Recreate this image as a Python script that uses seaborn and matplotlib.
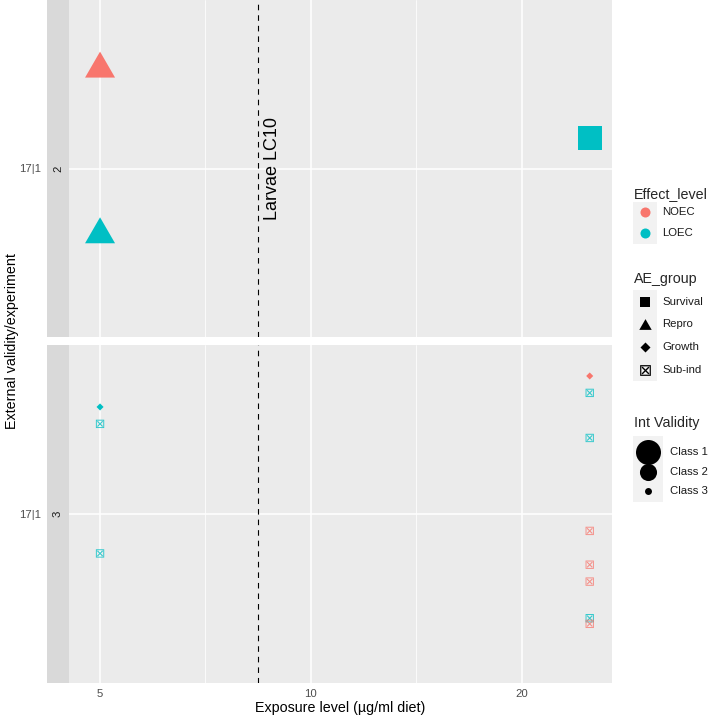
import matplotlib
matplotlib.use("Agg")
import matplotlib.pyplot as plt
import matplotlib.transforms as mtransforms
from matplotlib.path import Path
from matplotlib.patches import Rectangle
from matplotlib.ticker import FixedLocator, FixedFormatter, NullFormatter
import numpy as np
import pandas as pd
import seaborn as sns

# ---------------- data ----------------
experiment   = ["2", "2", "2",
                "3", "3", "3", "3", "3", "3", "3", "3", "3", "3", "3"]
exposure     = [5, 5, 25,
                5, 5, 5, 25, 25, 25, 25, 25, 25, 25, 25]
effect_level = ["NOEC", "LOEC", "LOEC",
                "LOEC", "LOEC", "LOEC", "NOEC", "LOEC", "LOEC", "NOEC",
                "NOEC", "NOEC", "LOEC", "NOEC"]
ae_group     = ["Repro", "Repro", "Survival",
                "Growth", "Sub-ind", "Sub-ind", "Growth", "Sub-ind", "Sub-ind",
                "Sub-ind", "Sub-ind", "Sub-ind", "Sub-ind", "Sub-ind"]
int_validity = ["Class 1", "Class 1", "Class 1",
                "Class 3", "Class 3", "Class 3", "Class 3", "Class 3", "Class 3",
                "Class 3", "Class 3", "Class 3", "Class 3", "Class 3"]
y_jitter     = [0.37, -0.22, 0.11,
                0.38, 0.32, -0.14, 0.49, 0.43, 0.27, -0.06, -0.18, -0.24, -0.37, -0.39]

facets = ["2", "3"]
y_category = "17|1"
x_ticks = [5, 10, 20]
x_tick_labels = ["5", "10", "20"]
larvae_lc10 = 8.39
effect_levels = ["NOEC", "LOEC"]
ae_groups = ["Survival", "Repro", "Growth", "Sub-ind"]
validity_classes = ["Class 1", "Class 2", "Class 3"]

df = pd.DataFrame({
    "Experiment": experiment, "Exposure": exposure, "Effect_level": effect_level,
    "AE_group": ae_group, "Int_Validity": int_validity, "y": y_jitter,
})

# ---------------- style ----------------
sns.set_theme(style="darkgrid")
plt.rcParams["font.family"] = ["Liberation Sans", "DejaVu Sans"]
plt.rcParams["mathtext.fontset"] = "dejavusans"

pal = {"NOEC": "#F8766D", "LOEC": "#00BFC4"}
tri = Path([(-1, -0.866), (1, -0.866), (0, 0.866), (-1, -0.866)],
           [Path.MOVETO, Path.LINETO, Path.LINETO, Path.CLOSEPOLY])
markers = {"Survival": "s", "Repro": tri, "Growth": "D", "Sub-ind": r"$\boxtimes$"}
class_diam = {"Class 1": 18.0, "Class 2": 12.3, "Class 3": 5.0}
shape_scale = {"Survival": 0.92, "Repro": 1.2, "Growth": 0.72, "Sub-ind": 1.2}
shape_alpha = {"Survival": 1.0, "Repro": 1.0, "Growth": 1.0, "Sub-ind": 0.8}

W, H = 709, 718
fig = plt.figure(figsize=(W / 100, H / 100), dpi=100)
fig.patch.set_facecolor("white")


def px_axes(x0, y0, x1, y1, **kw):
    return fig.add_axes([x0 / W, 1 - y1 / H, (x1 - x0) / W, (y1 - y0) / H], **kw)


ax_top = px_axes(47, 0, 612, 337)
ax_bot = px_axes(47, 345, 612, 683)
strip_frac = (69 - 47) / (612 - 47)

for ax, fac in zip([ax_top, ax_bot], facets):
    ax.set_facecolor("#EBEBEB")
    d = df[df["Experiment"] == fac]
    for g in ae_groups:
        sub = d[d["AE_group"] == g]
        if sub.empty:
            continue
        sizes = {c: (class_diam[c] * shape_scale[g]) ** 2 for c in validity_classes}
        sns.scatterplot(data=sub, x="Exposure", y="y", hue="Effect_level",
                        hue_order=effect_levels, palette=pal,
                        size="Int_Validity", size_order=validity_classes, sizes=sizes,
                        marker=markers[g], linewidth=0, alpha=shape_alpha[g],
                        legend=False, ax=ax, zorder=3)
    ax.axvline(larvae_lc10, color="black", lw=0.8, ls=(0, (5, 4.5)), zorder=2.5)
    ax.set_xscale("log")
    ax.set_xlim(4.20, 26.9)
    ax.set_ylim(-0.6, 0.6)
    ax.xaxis.set_major_locator(FixedLocator(x_ticks))
    ax.xaxis.set_major_formatter(FixedFormatter(x_tick_labels))
    ax.xaxis.set_minor_locator(FixedLocator([np.sqrt(x_ticks[0] * x_ticks[1]),
                                             np.sqrt(x_ticks[1] * x_ticks[2])]))
    ax.xaxis.set_minor_formatter(NullFormatter())
    ax.set_yticks([0])
    ax.set_yticklabels([y_category])
    ax.set_xlabel("")
    ax.set_ylabel("")
    for s in ax.spines.values():
        s.set_visible(False)
    ax.set_axisbelow(True)
    ax.grid(True, which="major", color="white", lw=1.1)
    ax.grid(True, which="minor", axis="x", color="white", lw=0.55)
    ax.tick_params(axis="both", which="major", length=2.6, width=0.8, color="#333333",
                   labelsize=8.2, labelcolor="#4D4D4D", pad=2)
    ax.tick_params(axis="x", which="minor", length=0)
    # strip on the left
    ax.add_patch(Rectangle((0, 0), strip_frac, 1, transform=ax.transAxes,
                           facecolor="#D9D9D9", edgecolor="none", zorder=1.2))
    trans = mtransforms.blended_transform_factory(ax.transAxes, ax.transData)
    ax.text(strip_frac / 2, 0, fac, transform=trans, rotation=90, ha="center",
            va="center", fontsize=8.2, color="#1A1A1A", zorder=4)

ax_top.tick_params(axis="x", which="both", bottom=False, labelbottom=False)
ax_top.text(8.8, 0, "Larvae LC10", rotation=90, ha="center", va="center",
            fontsize=13, color="black", zorder=4)

fig.text(12 / W, 1 - 341 / H, "External validity/experiment", rotation=90,
         ha="center", va="center", fontsize=10.3, color="black")
fig.text(340 / W, 1 - 708 / H, "Exposure level (µg/ml diet)", ha="center",
         va="center", fontsize=10.3, color="black")

# ---------------- legends (ggplot-like, drawn in pixel coords) ----------------
lg = fig.add_axes([0, 0, 1, 1])
lg.set_xlim(0, W)
lg.set_ylim(H, 0)
lg.axis("off")

title_fs, lab_fs = 10.3, 8.2
key_bg = "#F2F2F2"

# Effect_level
lg.text(634, 194, "Effect_level", fontsize=title_fs, va="center", ha="left")
lg.add_patch(Rectangle((633, 202), 24, 42, facecolor=key_bg, edgecolor="none"))
for lvl, yy in zip(effect_levels, [212, 233]):
    lg.scatter([645], [yy], s=52, marker="o", color=pal[lvl], linewidths=0)
    lg.text(662, yy, lvl, fontsize=lab_fs, va="center", ha="left", color="#1A1A1A")

# AE_group
lg.text(634, 279, "AE_group", fontsize=title_fs, va="center", ha="left")
lg.add_patch(Rectangle((633, 290), 24, 91, facecolor=key_bg, edgecolor="none"))
ae_key_sizes = {"Survival": 48, "Repro": 80, "Growth": 26, "Sub-ind": 60}
for g, yy in zip(ae_groups, [302, 324, 347, 370]):
    lg.scatter([645], [yy], s=ae_key_sizes[g], marker=markers[g], color="black",
               linewidths=0)
    lg.text(662, yy, g, fontsize=lab_fs, va="center", ha="left", color="#1A1A1A")

# Int Validity
lg.text(634, 423, "Int Validity", fontsize=title_fs, va="center", ha="left")
lg.add_patch(Rectangle((633, 436), 30, 66, facecolor=key_bg, edgecolor="none"))
for c, yy in zip(validity_classes, [452, 472, 491]):
    lg.scatter([648], [yy], s=class_diam[c] ** 2, marker="o", color="black",
               linewidths=0)
    lg.text(670, yy, c, fontsize=lab_fs, va="center", ha="left", color="#1A1A1A")

fig.savefig("out.png", dpi=100, facecolor="white")
